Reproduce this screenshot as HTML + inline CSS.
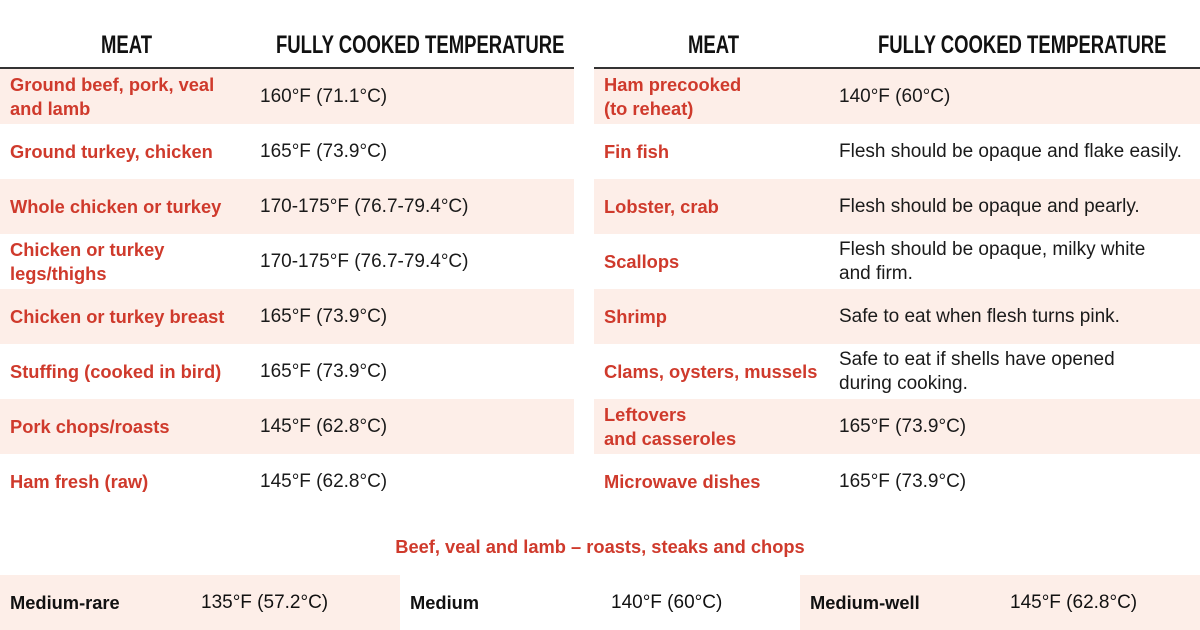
<!DOCTYPE html>
<html><head><meta charset="utf-8"><style>
body{margin:0;width:1200px;height:630px;background:#fff;overflow:hidden;position:relative;font-family:"Liberation Sans",sans-serif}
.h{position:absolute;top:31px;font-weight:bold;font-size:25px;color:#111;white-space:nowrap;transform-origin:0 0;transform:scaleX(0.74)}
.line{position:absolute;top:67px;height:2px;background:#333}
.bg{position:absolute;height:55px;background:#fdeee8}
.n,.t{position:absolute;line-height:24px;display:flex;align-items:center;height:55px;white-space:nowrap}
.n{color:#cf3a2c;font-weight:bold;font-size:18.3px}
.t{color:#1a1a1a;font-size:19px}
.b{position:absolute;top:575px;height:55px;display:flex;align-items:center;font-size:19px;color:#111;white-space:nowrap}
.bb{font-weight:bold;font-size:18.3px}
</style></head><body>
<div class="h" style="left:101px">MEAT</div>
<div class="h" style="left:276px">FULLY COOKED TEMPERATURE</div>
<div class="h" style="left:688px">MEAT</div>
<div class="h" style="left:878px">FULLY COOKED TEMPERATURE</div>
<div class="line" style="left:0;width:574px"></div>
<div class="line" style="left:594px;width:606px"></div>
<div id="rows"></div>
<div style="position:absolute;top:536px;left:0;width:1200px;text-align:center;color:#cf3a2c;font-weight:bold;font-size:18.3px">Beef, veal and lamb – roasts, steaks and chops</div>
<div class="bg" style="left:0;width:400px;top:575px"></div>
<div class="bg" style="left:800px;width:400px;top:575px"></div>
<div class="b bb" style="left:10px">Medium-rare</div>
<div class="b" style="left:201px">135°F (57.2°C)</div>
<div class="b bb" style="left:410px">Medium</div>
<div class="b" style="left:611px">140°F (60°C)</div>
<div class="b bb" style="left:810px">Medium-well</div>
<div class="b" style="left:1010px">145°F (62.8°C)</div>
<script>
const leftNames=["Ground beef, pork, veal<br>and lamb","Ground turkey, chicken","Whole chicken or turkey","Chicken or turkey<br>legs/thighs","Chicken or turkey breast","Stuffing (cooked in bird)","Pork chops/roasts","Ham fresh (raw)"];
const leftTemps=["160°F (71.1°C)","165°F (73.9°C)","170-175°F (76.7-79.4°C)","170-175°F (76.7-79.4°C)","165°F (73.9°C)","165°F (73.9°C)","145°F (62.8°C)","145°F (62.8°C)"];
const rightNames=["Ham precooked<br>(to reheat)","Fin fish","Lobster, crab","Scallops","Shrimp","Clams, oysters, mussels","Leftovers<br>and casseroles","Microwave dishes"];
const rightTemps=["140°F (60°C)","Flesh should be opaque and flake easily.","Flesh should be opaque and pearly.","Flesh should be opaque, milky white<br>and firm.","Safe to eat when flesh turns pink.","Safe to eat if shells have opened<br>during cooking.","165°F (73.9°C)","165°F (73.9°C)"];
const c=document.getElementById('rows');
function add(cls,left,top,html,w){const d=document.createElement('div');d.className=cls;d.style.left=left+'px';d.style.top=top+'px';if(w)d.style.width=w+'px';if(html)d.innerHTML=html;c.appendChild(d);return d;}
for(let i=0;i<8;i++){
 const y=69+i*55;
 if(i%2===0){
  const a=add('bg',0,y,'',574);
  
  
  const b=add('bg',594,y,'',606);
  
  
 }
 const n1=add('n',10,y,leftNames[i]);
 
 
 const t1=add('t',260,y,leftTemps[i]);
 
 
 const n2=add('n',604,y,rightNames[i]);
 
 
 const t2=add('t',839,y,rightTemps[i]);
 
 
}
</script>
</body></html>
